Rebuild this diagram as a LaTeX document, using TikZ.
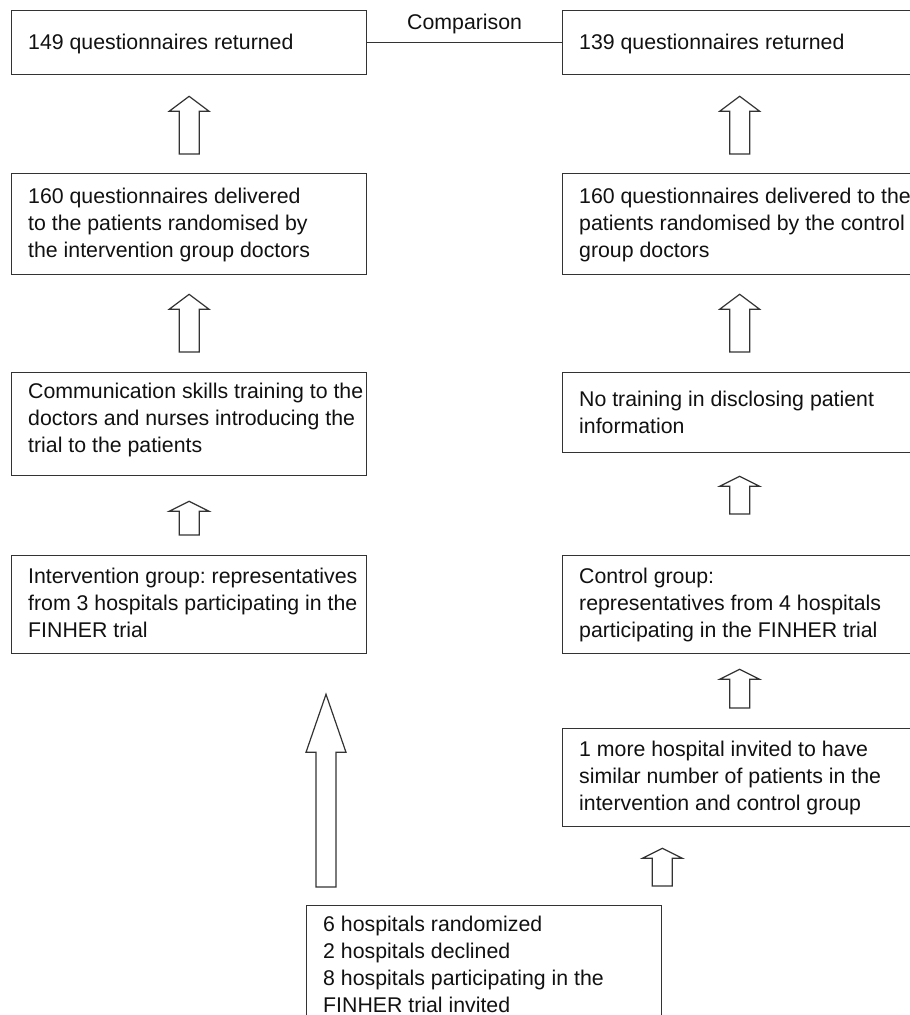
\documentclass[tikz,border=0pt]{standalone}
\usepackage{fontspec}
\setmainfont{Liberation Sans}
\usetikzlibrary{calc}
\frenchspacing
\definecolor{linec}{HTML}{333333}
\definecolor{textc}{HTML}{111111}
\tikzset{
  box/.style={draw=linec, line width=1.3pt, fill=white, inner sep=0pt, anchor=north west},
  txt/.style={text=textc, inner sep=0pt, anchor=north west, align=left, font=\fontsize{21.3}{26.8}\selectfont\frenchspacing},
  blk/.style={draw=linec, line width=1.2pt, fill=white, line join=miter},
  link/.style={draw=linec, line width=1.3pt}
}
% #1 bottom coordinate, #2 tip coordinate, #3 head height
\newcommand\blockarr[3]{%
  \draw[blk] let \p1=#1, \p2=#2 in
    (\x2-10pt,\y1) -- (\x2-10pt,\y2-#3) -- (\x2-20pt,\y2-#3) -- (\x2,\y2)
    -- (\x2+20pt,\y2-#3) -- (\x2+10pt,\y2-#3) -- (\x2+10pt,\y1) -- cycle;}
\begin{document}
\begin{tikzpicture}[x=1pt,y=-1pt]
\clip (0,0) rectangle (910,1015);
\fill[white] (0,0) rectangle (910,1015);

% left column
\node[box, minimum width=355pt, minimum height=64pt]  (l1) at (11,10)  {};
\node[box, minimum width=355pt, minimum height=101pt] (l2) at (11,173) {};
\node[box, minimum width=355pt, minimum height=103pt] (l3) at (11,372) {};
\node[box, minimum width=355pt, minimum height=98pt]  (l4) at (11,555) {};
% right column
\node[box, minimum width=354pt, minimum height=64pt]  (r1) at (562,10)  {};
\node[box, minimum width=354pt, minimum height=101pt] (r2) at (562,173) {};
\node[box, minimum width=354pt, minimum height=80pt]  (r3) at (562,372) {};
\node[box, minimum width=354pt, minimum height=98pt]  (r4) at (562,555) {};
\node[box, minimum width=354pt, minimum height=98pt]  (r5) at (562,728) {};
% bottom
\node[box, minimum width=355pt, minimum height=130pt] (b) at (306,905) {};

% texts
\node[txt] (l1t) at ($(l1.north west)+(17,24)$) {149 questionnaires returned};
\node[txt] (l2t) at ($(l2.north west)+(17,15)$) {160 questionnaires delivered\\to the patients randomised by\\the intervention group doctors};
\node[txt] (l3t) at ($(l3.north west)+(17,11)$) {Communication skills training to the\\doctors and nurses introducing the\\trial to the patients};
\node[txt] (l4t) at ($(l4.north west)+(17,13)$) {Intervention group: representatives\\from 3 hospitals participating in the\\FINHER trial};
\node[txt] (r1t) at ($(r1.north west)+(17,24)$) {139 questionnaires returned};
\node[txt] (r2t) at ($(r2.north west)+(17,15)$) {160 questionnaires delivered to the\\patients randomised by the control\\group doctors};
\node[txt] (r3t) at ($(r3.north west)+(17,19)$) {No training in disclosing patient\\information};
\node[txt] (r4t) at ($(r4.north west)+(17,13)$) {Control group:\\representatives from 4 hospitals\\participating in the FINHER trial};
\node[txt] (r5t) at ($(r5.north west)+(17,13)$) {1 more hospital invited to have\\similar number of patients in the\\intervention and control group};
\node[txt] (bt) at ($(b.north west)+(17,11)$) {6 hospitals randomized\\2 hospitals declined\\8 hospitals participating in the\\FINHER trial invited};

% comparison link
\draw[link] (l1.east) -- coordinate[midway] (cmp) (r1.west);
\node[txt, anchor=south] (cmpt) at ($(cmp)+(0,-9)$) {Comparison};

% block arrows
\blockarr{($(l2.north)+(0,-19)$)}{($(l1.south)+(0,21)$)}{15pt}
\blockarr{($(l3.north)+(0,-20)$)}{($(l2.south)+(0,19)$)}{15pt}
\blockarr{($(l4.north)+(0,-20)$)}{($(l3.south)+(0,25)$)}{10pt}
\blockarr{($(r2.north)+(0,-19)$)}{($(r1.south)+(0,21)$)}{15pt}
\blockarr{($(r3.north)+(0,-20)$)}{($(r2.south)+(0,19)$)}{15pt}
\blockarr{($(r4.north)+(0,-41)$)}{($(r3.south)+(0,23)$)}{10pt}
\blockarr{($(r5.north)+(0,-20)$)}{($(r4.south)+(0,15)$)}{10pt}
\blockarr{($(b.north east)+(0,-19)$)}{($(b.north east |- r5.south)+(0,21)$)}{10pt}
\blockarr{($(b.north west)+(20,-18)$)}{($(b.north west |- l4.south)+(20,40)$)}{58pt}
\end{tikzpicture}
\end{document}
